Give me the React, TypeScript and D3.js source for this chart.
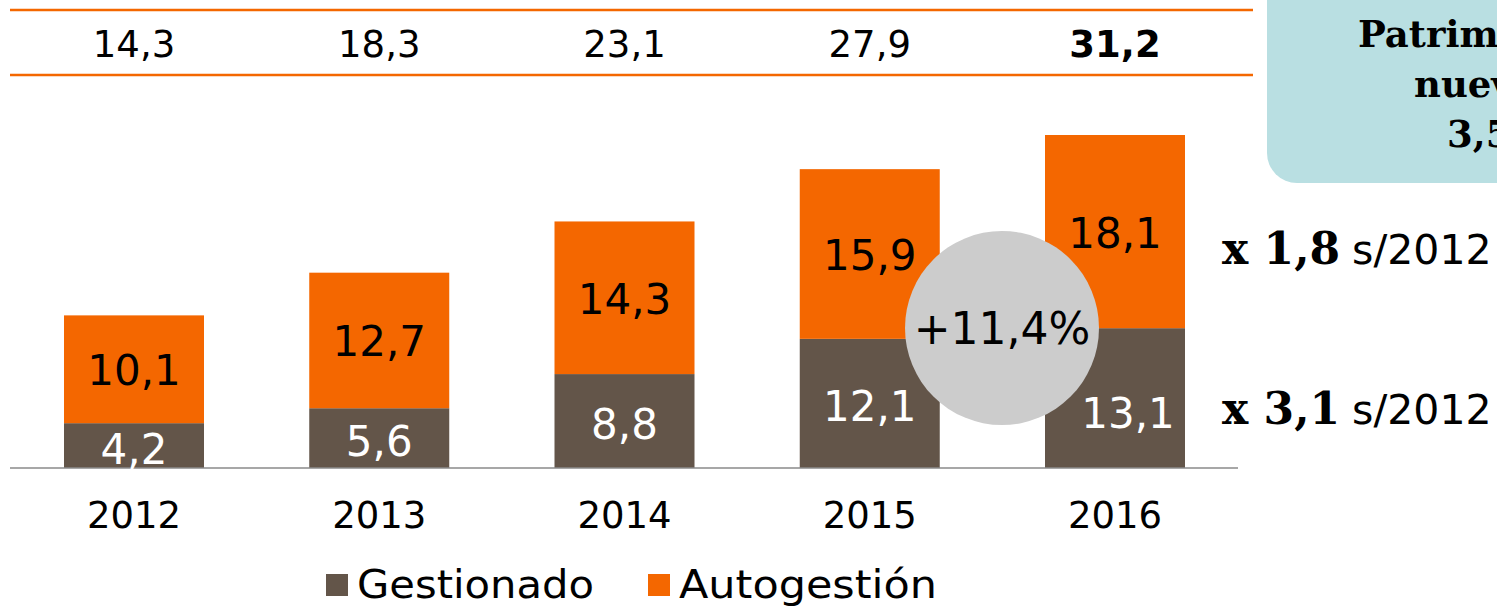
import React from "react";
import * as d3 from "d3";

const years = ["2012", "2013", "2014", "2015", "2016"];
const gestionado = [4.2, 5.6, 8.8, 12.1, 13.1];
const autogestion = [10.1, 12.7, 14.3, 15.9, 18.1];
const totals = ["14,3", "18,3", "23,1", "27,9", "31,2"];
const legendLabels = ["Gestionado", "Autogestión"];
const growthLabel = "+11,4%";
const multipliers = [
  { big: "x 1,8", small: "s/2012" },
  { big: "x 3,1", small: "s/2012" },
];
const boxLines = ["Patrimonio", "nuevo", "3,5"];

const ORANGE = "#F46700";
const BROWN = "#635549";
const FONT = "'DejaVu Sans', sans-serif";
const SERIF = "'DejaVu Serif', serif";

const fmt = (v: number) => v.toFixed(1).replace(".", ",");

export default function App() {
  const W = 1497, H = 608;
  const x = d3.scalePoint<string>().domain(years).range([134, 1115]).padding(0);
  const y = d3.scaleLinear().domain([0, 31.2]).range([468, 135]);
  const bw = 140;
  const stacked = years.map((yr, i) => ({
    yr,
    g: gestionado[i],
    a: autogestion[i],
    tot: gestionado[i] + autogestion[i],
  }));
  const boxX = [1358, 1414, 1447];
  return (
    <svg width={W} height={H} style={{ position: "absolute", left: 0, top: 0 }} fontFamily={FONT}>
      <rect width={W} height={H} fill="#fff" />
      {/* info box */}
      <rect x={1267} y={-40} width={300} height={223} rx={30} fill="#B9DFE2" />
      {boxLines.map((t, i) => (
        <text key={t} x={boxX[i]} y={47 + i * 50} fontFamily={SERIF} fontWeight="bold" fontSize={37} fill="#000">
          {t}
        </text>
      ))}
      {/* top lines */}
      <line x1={10} x2={1253} y1={10} y2={10} stroke={ORANGE} strokeWidth={2.5} />
      <line x1={10} x2={1253} y1={75} y2={75} stroke={ORANGE} strokeWidth={2.5} />
      {stacked.map((d, i) => (
        <text key={"t" + d.yr} x={x(d.yr)!} y={57} textAnchor="middle" fontSize={37}
          fontWeight={i === years.length - 1 ? "bold" : "normal"} fill="#000">
          {totals[i]}
        </text>
      ))}
      {/* bars */}
      {stacked.map((d) => {
        const cx = x(d.yr)!;
        return (
          <g key={d.yr}>
            <rect x={cx - bw / 2} y={y(d.g)} width={bw} height={y(0) - y(d.g)} fill={BROWN} />
            <rect x={cx - bw / 2} y={y(d.tot)} width={bw} height={y(d.g) - y(d.tot)} fill={ORANGE} />
          </g>
        );
      })}
      {/* axis */}
      <line x1={10} x2={1238} y1={y(0)} y2={y(0)} stroke="#8a8a8a" strokeWidth={1.5} />
      {/* circle */}
      <circle cx={1002} cy={328} r={97} fill="#CCCCCC" />
      <text x={1002} y={344} textAnchor="middle" fontSize={44} fill="#000">{growthLabel}</text>
      {/* segment labels */}
      {stacked.map((d, i) => {
        const cx = x(d.yr)!;
        const last = i === years.length - 1;
        return (
          <g key={"l" + d.yr}>
            <text x={cx} y={(y(d.g) + y(d.tot)) / 2 + 16} textAnchor="middle" fontSize={42} fill="#000">
              {fmt(d.a)}
            </text>
            <text x={cx + (last ? 13 : 0)} y={Math.min((y(0) + y(d.g)) / 2 + (last ? 30 : 18), 465)} textAnchor="middle" fontSize={42} fill="#fff">
              {fmt(d.g)}
            </text>
          </g>
        );
      })}
      {/* year labels */}
      {years.map((yr) => (
        <text key={"y" + yr} x={x(yr)!} y={528} textAnchor="middle" fontSize={37} fill="#000">
          {yr}
        </text>
      ))}
      {/* multipliers */}
      {multipliers.map((m, i) => (
        <text key={"m" + i} x={1222} y={264 + i * 160} fontSize={41} fill="#000">
          <tspan fontFamily={SERIF} fontWeight="bold" fontSize={44}>{m.big}</tspan>
          <tspan dx={12}>{m.small}</tspan>
        </text>
      ))}
      {/* legend */}
      <rect x={326} y={574} width={22} height={22} fill={BROWN} />
      <text x={357} y={598} fontSize={39} textLength={237} lengthAdjust="spacingAndGlyphs" fill="#000">{legendLabels[0]}</text>
      <rect x={648} y={574} width={22} height={22} fill={ORANGE} />
      <text x={679} y={598} fontSize={39} textLength={258} lengthAdjust="spacingAndGlyphs" fill="#000">{legendLabels[1]}</text>
    </svg>
  );
}
